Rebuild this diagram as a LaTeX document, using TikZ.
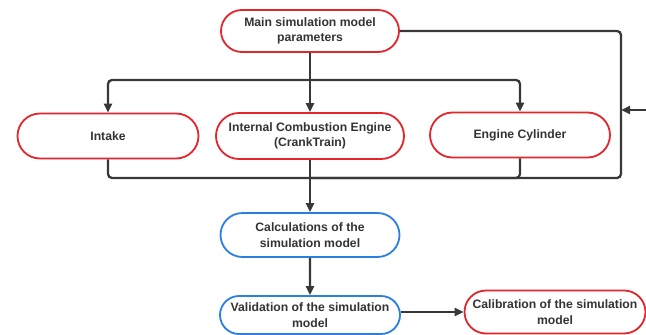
\documentclass[tikz,border=0pt]{standalone}
\usepackage{fontspec}
\setmainfont{Liberation Sans}
\definecolor{stagered}{HTML}{E2262C}
\definecolor{stageblue}{HTML}{2B7FE3}
\definecolor{linegray}{HTML}{383838}
\definecolor{textgray}{HTML}{333333}
\usetikzlibrary{positioning,arrows.meta,calc,shapes.misc}

\begin{document}
\begin{tikzpicture}[x=1pt, y=-1pt,
      stage/.style={rounded rectangle, rounded rectangle arc length=180, draw=stagered,
                    line width=1.8pt, fill=white, align=center, inner sep=0pt, text=textgray,
                    font=\bfseries\fontsize{12.2}{15.5}\selectfont},
      calcstage/.style={stage, draw=stageblue},
      link/.style={draw=linegray, line width=2.3pt, rounded corners=4pt},
      arr/.style={link, -{Triangle[length=9pt, width=8pt]}},
    ]
    \useasboundingbox (0,0) rectangle (646,335);
    % nodes
    \node[stage, minimum width=178pt, minimum height=42pt] (main) at (310,31)
      {Main simulation model\\parameters};
    \node[stage, minimum width=181pt, minimum height=45pt] (intake) at (108,136) {Intake};
    \node[stage, minimum width=188pt, minimum height=46pt] (ice) at (310,136)
      {Internal Combustion Engine\\(CrankTrain)};
    \node[stage, minimum width=180pt, minimum height=45pt] (cyl) at (520,135) {Engine Cylinder};
    \node[calcstage, minimum width=179pt, minimum height=44pt] (calc) at (310,235)
      {Calculations of the\\simulation model};
    \node[calcstage, minimum width=180pt, minimum height=38pt] (valid) at (310,315)
      {Validation of the simulation\\model};
    \node[stage, minimum width=181pt, minimum height=43pt] (calib) at (555,312)
      {Calibration of the simulation\\model};
    % junctions
    \coordinate (split) at (310,80);
    \coordinate (merge) at (310,178);
    \coordinate (rail) at (621,110);
    \coordinate (feed) at (646,110);
    % connectors
    \draw[link] (main) -- (split);
    \draw[arr] (split) -| (intake.north);
    \draw[arr] (split) -| (cyl.north);
    \draw[arr] (split) -- (ice.north);
    \draw[link] (intake.south) |- (merge);
    \draw[link] (cyl.south) |- (merge);
    \draw[link] (ice.south) -- (merge);
    \draw[arr] (merge) -- (calc.north);
    \draw[link] (main.east) -| (rail) |- (merge);
    \draw[arr] (feed) -- (rail);
    \draw[arr] (calc) -- (valid);
    \draw[arr] (valid.east |- calib.west) -- (calib.west);
  \end{tikzpicture}
\end{document}
